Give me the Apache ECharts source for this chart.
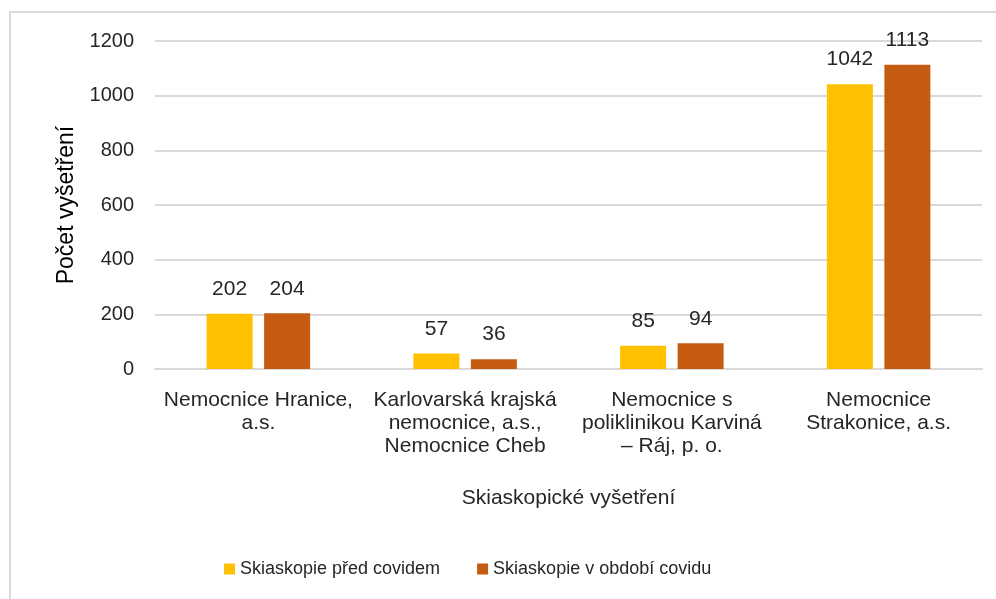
<!DOCTYPE html>
<html>
<head>
<meta charset="utf-8">
<script src="https://cdn.jsdelivr.net/npm/echarts@6/dist/echarts.min.js"></script>
<style>
  html, body { margin: 0; padding: 0; background: #fff; }
  #chart { width: 996px; height: 599px; }
</style>
</head>
<body>
<div id="chart"></div>
<script>
const kategorie = [
  'Nemocnice Hranice,\na.s.',
  'Karlovarská krajská\nnemocnice, a.s.,\nNemocnice Cheb',
  'Nemocnice s\npoliklinikou Karviná\n– Ráj, p. o.',
  'Nemocnice\nStrakonice, a.s.'
];
const predCovidem = [202, 57, 85, 1042];
const vObdobiCovidu = [204, 36, 94, 1113];

const font = 'Liberation Sans, Arial, sans-serif';

function grafSkiaskopie() {
  var graf = echarts.init(document.getElementById('chart'));

  var popisek = {
    show: true,
    position: 'top',
    distance: 14,
    fontSize: 21,
    color: '#262626',
    fontFamily: font
  };

  var option = {
    animation: false,
    textStyle: { fontFamily: font },
    graphic: [
      {
        type: 'rect',
        shape: { x: 10, y: 12, width: 1000, height: 600 },
        style: { fill: 'none', stroke: '#d9d9d9', lineWidth: 2 }
      }
    ],
    grid: { left: 155, right: 14, top: 41, bottom: 230 },
    legend: {
      top: 555,
      left: 219,
      itemWidth: 11,
      itemHeight: 11,
      itemGap: 37,
      icon: 'rect',
      textStyle: { fontSize: 18, color: '#262626', fontFamily: font }
    },
    xAxis: {
      type: 'category',
      data: kategorie,
      name: 'Skiaskopické vyšetření',
      nameLocation: 'middle',
      nameGap: 119,
      nameTextStyle: { fontSize: 21, color: '#262626', fontFamily: font },
      axisLine: { lineStyle: { color: '#d9d9d9', width: 2 } },
      axisTick: { show: false },
      axisLabel: {
        interval: 0,
        fontSize: 21,
        lineHeight: 23,
        color: '#262626',
        margin: 20,
        fontFamily: font
      }
    },
    yAxis: {
      type: 'value',
      min: 0,
      max: 1200,
      interval: 200,
      name: 'Počet vyšetření',
      nameLocation: 'middle',
      nameGap: 76,
      nameTextStyle: { fontSize: 23, color: '#000', fontFamily: font },
      axisLine: { show: false },
      axisTick: { show: false },
      axisLabel: {
        fontSize: 20,
        color: '#262626',
        margin: 21,
        fontFamily: font,
        formatter: function (v) { return String(v); }
      },
      splitLine: { lineStyle: { color: '#d9d9d9', width: 2 } }
    },
    series: [
      {
        name: 'Skiaskopie před covidem',
        type: 'bar',
        data: predCovidem,
        barWidth: 46,
        barGap: '25%',
        itemStyle: { color: '#FFC000' },
        label: popisek
      },
      {
        name: 'Skiaskopie v období covidu',
        type: 'bar',
        data: vObdobiCovidu,
        barWidth: 46,
        itemStyle: { color: '#C55A11' },
        label: popisek
      }
    ]
  };

  graf.setOption(option);
}

grafSkiaskopie();
</script>
</body>
</html>
